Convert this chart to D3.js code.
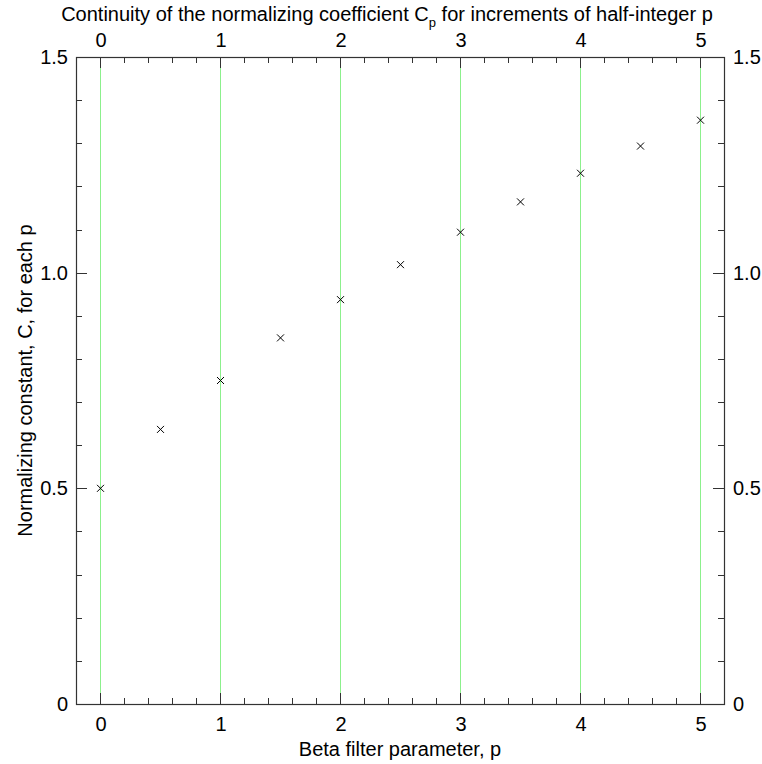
<!DOCTYPE html>
<html>
<head>
<meta charset="utf-8">
<script src="https://cdn.jsdelivr.net/npm/d3@7"></script>
<style>
  body { margin: 0; background: #fff; }
  svg text { font-family: "Liberation Sans", Arial, sans-serif; fill: #000; }
</style>
</head>
<body>
<svg id="chart" width="762" height="764"></svg>
<script>
// p values (half-integer steps) and the normalizing constant C_p
const pValues = [0, 0.5, 1, 1.5, 2, 2.5, 3, 3.5, 4, 4.5, 5];
const cValues = [0.5, 0.6366, 0.75, 0.8488, 0.9375, 1.0186, 1.0938, 1.1641, 1.2305, 1.2935, 1.3535];
const xTicks = [0, 1, 2, 3, 4, 5];
const yTicks = [0, 0.5, 1.0, 1.5];
const yTickLabels = ['0', '0.5', '1.0', '1.5'];

const svg = d3.select('#chart');
const margin = { left: 76, right: 38, top: 57, bottom: 60 };
const W = 762, H = 764;

const x = d3.scaleLinear().domain([-0.2, 5.2]).range([margin.left, W - margin.right]);
const y = d3.scaleLinear().domain([0, 1.5]).range([H - margin.bottom, margin.top]);

const axisColor = '#333';
const x0 = x.range()[0], x1 = x.range()[1];
const y0 = y.range()[0], y1 = y.range()[1];

// green vertical grid lines at integer p
svg.append('g').selectAll('line')
  .data(xTicks)
  .join('line')
  .attr('x1', d => x(d) + 0.5).attr('x2', d => x(d) + 0.5)
  .attr('y1', y1).attr('y2', y0)
  .attr('stroke', '#8cf08c').attr('stroke-width', 1);

// minor ticks: every 0.2 on x, every 0.1 on y
const xMinor = d3.range(-0.2, 5.21, 0.2).map(v => +v.toFixed(1)).filter(v => !xTicks.includes(v) && v > -0.2 && v < 5.2);
const yMinor = d3.range(0.1, 1.5, 0.1).map(v => +v.toFixed(1)).filter(v => !yTicks.includes(v));

const ticks = svg.append('g').attr('stroke', axisColor).attr('stroke-width', 1);
const bigT = 11, smallT = 6;

// bottom and top axes (ticks pointing inward)
[[y0, -1], [y1, 1]].forEach(([yy, dir]) => {
  ticks.selectAll(null).data(xTicks).join('line')
    .attr('x1', d => x(d) + 0.5).attr('x2', d => x(d) + 0.5)
    .attr('y1', yy).attr('y2', yy + dir * bigT);
  ticks.selectAll(null).data(xMinor).join('line')
    .attr('x1', d => Math.round(x(d)) + 0.5).attr('x2', d => Math.round(x(d)) + 0.5)
    .attr('y1', yy).attr('y2', yy + dir * smallT);
});

// left and right axes
[[x0, 1], [x1, -1]].forEach(([xx, dir]) => {
  ticks.selectAll(null).data(yTicks).join('line')
    .attr('y1', d => Math.round(y(d)) + 0.5).attr('y2', d => Math.round(y(d)) + 0.5)
    .attr('x1', xx).attr('x2', xx + dir * bigT);
  ticks.selectAll(null).data(yMinor).join('line')
    .attr('y1', d => Math.round(y(d)) + 0.5).attr('y2', d => Math.round(y(d)) + 0.5)
    .attr('x1', xx).attr('x2', xx + dir * smallT);
});

// frame
svg.append('rect')
  .attr('x', x0 + 0.5).attr('y', y1 + 0.5)
  .attr('width', x1 - x0).attr('height', y0 - y1)
  .attr('fill', 'none').attr('stroke', axisColor).attr('stroke-width', 1.2);

// tick labels
const fs = 20;
svg.append('g').selectAll('text').data(xTicks).join('text')
  .attr('x', d => x(d) + 1).attr('y', y0 + 27)
  .attr('text-anchor', 'middle').attr('font-size', fs).text(d => d);
svg.append('g').selectAll('text').data(xTicks).join('text')
  .attr('x', d => x(d) + 1).attr('y', y1 - 10)
  .attr('text-anchor', 'middle').attr('font-size', fs).text(d => d);
svg.append('g').selectAll('text').data(yTicks).join('text')
  .attr('x', x0 - 8).attr('y', d => y(d) + 7)
  .attr('text-anchor', 'end').attr('font-size', fs).text((d, i) => yTickLabels[i]);
svg.append('g').selectAll('text').data(yTicks).join('text')
  .attr('x', x1 + 9).attr('y', d => y(d) + 7)
  .attr('text-anchor', 'start').attr('font-size', fs).text((d, i) => yTickLabels[i]);

// data markers (x crosses)
const s = 3.5;
svg.append('g').selectAll('path')
  .data(pValues.map((p, i) => [p, cValues[i]]))
  .join('path')
  .attr('d', d => {
    const cx = x(d[0]) + 0.5, cy = y(d[1]);
    return `M${cx - s},${cy - s}L${cx + s},${cy + s}M${cx - s},${cy + s}L${cx + s},${cy - s}`;
  })
  .attr('stroke', '#000').attr('stroke-width', 1).attr('fill', 'none');

// axis titles
svg.append('text')
  .attr('x', x(2.5)).attr('y', 756)
  .attr('text-anchor', 'middle').attr('font-size', fs)
  .text('Beta filter parameter, p');

svg.append('text')
  .attr('transform', `translate(32,${(y0 + y1) / 2}) rotate(-90)`)
  .attr('text-anchor', 'middle').attr('font-size', fs)
  .text('Normalizing constant, C, for each p');

const title = svg.append('text')
  .attr('x', 387).attr('y', 21)
  .attr('text-anchor', 'middle').attr('font-size', fs);
title.append('tspan').text('Continuity of the normalizing coefficient C');
title.append('tspan').attr('font-size', 13).attr('dy', 6).text('p');
title.append('tspan').attr('dy', -6).text(' for increments of half-integer p');
</script>
</body>
</html>
